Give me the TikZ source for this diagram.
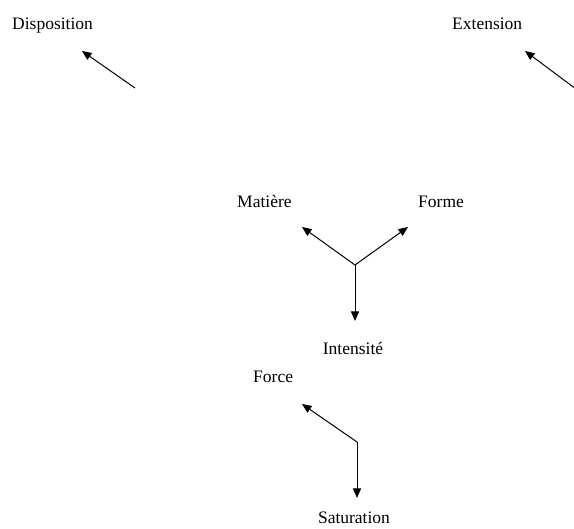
\documentclass[tikz,border=0pt]{standalone}
\usepackage{fontspec}
\setmainfont{Liberation Serif}
\usetikzlibrary{arrows.meta}
\tikzset{
    lbl/.style = {anchor = base west, inner sep = 0pt, font = \fontsize{17.5}{20}\selectfont},
    fl/.style = {-{Triangle[length = 9.5pt, width = 8pt]}, line width = 1pt}
}
\begin{document}
\begin{tikzpicture}[x = 1pt, y = -1pt]
        \useasboundingbox (0, 0) rectangle (574, 529);
        % top
        \node[lbl] (disp) at (12, 29.5) {Disposition};
        \coordinate (dispA) at (135, 88);
        \coordinate (dispB) at (82, 51);
        \draw[fl] (dispA) -- (dispB);
        \node[lbl] (ext) at (452, 29.5) {Extension};
        \coordinate (extA) at (580, 92);
        \coordinate (extB) at (525, 51);
        \draw[fl] (extA) -- (extB);

        % middle
        \node[lbl] (mat) at (237, 207.5) {Matière};
        \node[lbl] (forme) at (418, 207.5) {Forme};
        \node[lbl, anchor = base] (inten) at (353, 354.5) {Intensité};
        \coordinate (mid) at (355, 265);
        \coordinate (midL) at (302, 227);
        \coordinate (midR) at (408, 227);
        \coordinate (midD) at (355, 321);
        \draw[fl] (mid) -- (midL);
        \draw[fl] (mid) -- (midR);
        \draw[fl] (mid) -- (midD);

        % bottom
        \node[lbl] (force) at (253, 382.5) {Force};
        \node[lbl, anchor = base] (sat) at (354, 524) {Saturation};
        \coordinate (bas) at (357, 442);
        \coordinate (basL) at (302, 404);
        \coordinate (basD) at (357, 498);
        \draw[fl] (bas) -- (basL);
        \draw[fl] (bas) -- (basD);

    \end{tikzpicture}
\end{document}
